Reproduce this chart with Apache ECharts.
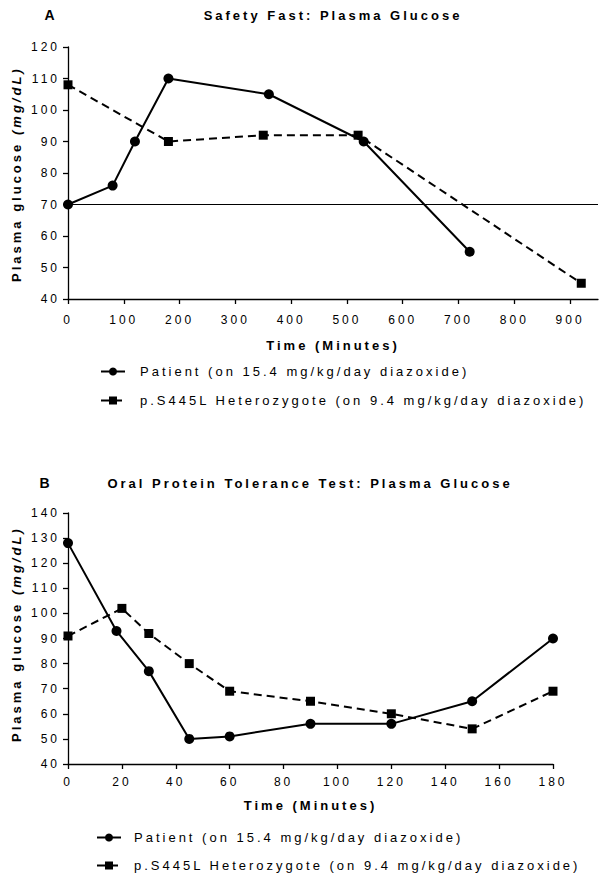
<!DOCTYPE html>
<html><head><meta charset="utf-8">
<script src="https://cdn.jsdelivr.net/npm/echarts@6/dist/echarts.min.js"></script>
<style>
html,body{margin:0;padding:0;background:#fff}
#c{width:608px;height:880px}
#c text{letter-spacing:3px}
</style></head><body><div id="c"></div>
<script>
const seriesNames = ['Patient (on 15.4 mg/kg/day diazoxide)', 'p.S445L Heterozygote (on 9.4 mg/kg/day diazoxide)'];
const fastTitle = 'Safety Fast: Plasma Glucose';
const optTitle = 'Oral Protein Tolerance Test: Plasma Glucose';
const fastPatient = [[0,70],[80,76],[120,90],[180,110],[360,105],[530,90],[720,55]];
const fastHet = [[0,108],[180,90],[350,92],[520,92],[920,45]];
const fastThreshold = 70;
const fastXTicks = [0,100,200,300,400,500,600,700,800,900];
const fastYTicks = [40,50,60,70,80,90,100,110,120];
const optPatient = [[0,128],[18,93],[30,77],[45,50],[60,51],[90,56],[120,56],[150,65],[180,90]];
const optHet = [[0,91],[20,102],[30,92],[45,80],[60,69],[90,65],[120,60],[150,54],[180,69]];
const optXTicks = [0,20,40,60,80,100,120,140,160,180];
const optYTicks = [40,50,60,70,80,90,100,110,120,130,140];

const FONT = '"Liberation Sans", Arial, sans-serif';
const black = '#000';
const chart = echarts.init(document.getElementById('c'), null, {renderer:'svg'});

function xAxis(gi, ticks, max, interval, margin, nameGap){
  return {
    gridIndex: gi, type:'value', min: ticks[0], max: max, interval: interval,
    axisLine:{show:true, onZero:false, lineStyle:{color:black, width:1.3}},
    axisTick:{show:true, length:5, customValues: ticks, lineStyle:{color:black, width:1.3}},
    axisLabel:{customValues: ticks, color:black, fontSize:12, fontFamily:FONT, margin: margin},
    splitLine:{show:false},
    name:'Time (Minutes)', nameLocation:'middle', nameGap: nameGap,
    nameTextStyle:{color:black, fontSize:13, fontWeight:'bold', fontFamily:FONT}
  };
}
function yAxis(gi, ticks){
  return {
    gridIndex: gi, type:'value', min: ticks[0], max: ticks[ticks.length-1], interval: 10,
    axisLine:{show:true, onZero:false, lineStyle:{color:black, width:1.3}},
    axisTick:{show:true, length:5, lineStyle:{color:black, width:1.3}},
    axisLabel:{color:black, fontSize:12, fontFamily:FONT, margin:8},
    splitLine:{show:false}
  };
}
function patientSeries(gi, data, extra){
  return Object.assign({
    name: seriesNames[0], type:'line', xAxisIndex: gi, yAxisIndex: gi, data: data,
    symbol:'circle', symbolSize:10, showAllSymbol:true,
    itemStyle:{color:black}, lineStyle:{color:black, width:2}, z:3
  }, extra || {});
}
function hetSeries(gi, data){
  return {
    name: seriesNames[1], type:'line', xAxisIndex: gi, yAxisIndex: gi, data: data,
    symbol:'rect', symbolSize:9, showAllSymbol:true,
    itemStyle:{color:black}, lineStyle:{color:black, width:2, type:[8,5]}, z:2
  };
}
function legend(left, top, gap, pad){
  return {
    orient:'vertical', left: left, top: top, itemWidth:24, itemHeight:10, itemGap: gap,
    data: seriesNames, selectedMode:false,
    textStyle:{color:black, fontSize:13, fontFamily:FONT, padding:[0,0,0,pad]}
  };
}
function txt(x, y, text, font, rot, align){
  return {type:'text', x:x, y:y, rotation: rot || 0,
    style:{text:text, font:font, fill:black, align: align || 'center', verticalAlign:'middle'}};
}

chart.setOption({
  animation:false,
  backgroundColor:'#fff',
  grid:[
    {left:68, top:47, width:530, height:252},
    {left:68, top:513, width:485, height:251}
  ],
  xAxis:[ xAxis(0, fastXTicks, 950, 100, 15, 40), xAxis(1, optXTicks, 180, 20, 12, 35) ],
  yAxis:[ yAxis(0, fastYTicks), yAxis(1, optYTicks) ],
  legend:[ legend(95, 360, 16, 10), legend(91, 826, 15, 8) ],
  series:[
    patientSeries(0, fastPatient, {
      markLine:{silent:true, symbol:'none', label:{show:false},
        lineStyle:{color:black, width:1, type:'solid'},
        data:[{yAxis: fastThreshold}]}
    }),
    hetSeries(0, fastHet),
    patientSeries(1, optPatient),
    hetSeries(1, optHet)
  ],
  graphic:[
    txt(51, 15, 'A', 'bold 14px ' + FONT),
    txt(333, 15, fastTitle, 'bold 13px ' + FONT),
    txt(16, 282, 'Plasma glucose', 'bold 13px ' + FONT, Math.PI/2, 'left'),
    txt(16, 135, '(mg/dL)', 'italic bold 13px ' + FONT, Math.PI/2, 'left'),
    txt(46, 483, 'B', 'bold 14px ' + FONT),
    txt(310, 483, optTitle, 'bold 13px ' + FONT),
    txt(16, 742, 'Plasma glucose', 'bold 13px ' + FONT, Math.PI/2, 'left'),
    txt(16, 595, '(mg/dL)', 'italic bold 13px ' + FONT, Math.PI/2, 'left')
  ]
});
</script></body></html>
